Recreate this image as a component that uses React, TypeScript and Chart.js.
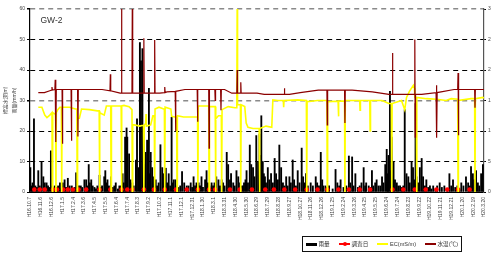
import React, { useEffect, useRef } from 'react';
import { Chart, registerables } from 'chart.js';

Chart.register(...registerables);

const FONT = '"Liberation Sans", Arial, "Noto Sans CJK JP", sans-serif';

// x tick labels, one every 30 days starting H16.10.7 (day 0)
const tickLabels = [
  'H16.10.7', 'H16.11.6', 'H16.12.6', 'H17.1.5', 'H17.2.4', 'H17.3.6', 'H17.4.5', 'H17.5.5',
  'H17.6.4', 'H17.7.4', 'H17.8.3', 'H17.9.2', 'H17.10.2', 'H17.11.1', 'H17.12.1', 'H17.12.31',
  'H18.1.30', 'H18.3.1', 'H18.3.31', 'H18.4.30', 'H18.5.30', 'H18.6.29', 'H18.7.29', 'H18.8.28',
  'H18.9.27', 'H18.10.27', 'H18.11.26', 'H18.12.26', 'H19.1.25', 'H19.2.24', 'H19.3.26', 'H19.4.25',
  'H19.5.25', 'H19.6.24', 'H19.7.24', 'H19.8.23', 'H19.9.22', 'H19.10.22', 'H19.11.21', 'H19.12.21',
  'H20.1.20', 'H20.2.19', 'H20.3.20',
];

// rainfall (mm/h): [day, value]
const rainfall: [number, number][] = [
  [1, 8], [4, 2], [7, 3], [11, 24], [15, 2], [19, 1.5], [23, 7], [27, 2], [32, 10], [37, 5], [41, 3], [46, 3],
  [50, 2], [53, 1.5], [58, 13.5], [62, 2], [65, 1], [69, 2], [75, 1.5], [78, 2], [83, 3], [87, 1], [91, 3], [96, 4],
  [100, 1.5], [105, 4.5], [110, 2], [116, 2], [120, 1], [124, 1.5], [128, 6.3], [132, 1], [136, 2], [141, 2],
  [145, 1.5], [151, 4], [156, 4], [160, 2], [163, 9], [166, 3], [170, 4], [174, 2], [179, 1.5], [183, 1], [187, 2],
  [193, 5.5], [197, 1.5], [200, 2], [206, 5], [209, 7], [212, 3], [215, 4], [219, 2], [225, 5], [230, 1.5], [234, 2],
  [238, 3], [244, 1], [248, 2], [252, 2], [257, 6], [260, 3], [264, 18], [268, 21], [270, 18], [275, 12.5], [279, 4],
  [284, 3], [288, 2], [294, 10.5], [297, 24], [301, 8], [305, 49], [308, 43], [312, 47], [316, 20], [318, 9],
  [321, 13], [325, 17], [327, 11], [330, 34], [332, 6], [335, 13], [339, 8], [344, 5], [349, 4], [353, 2], [357, 3],
  [362, 15.5], [367, 8], [371, 6], [375, 2],
  [377, 7.8], [381, 3], [385, 6], [389, 2], [393, 24.5], [396, 3], [399, 4], [404, 4], [408, 2], [412, 1.5], [417, 2],
  [422, 6.7], [428, 3], [435, 2], [440, 2], [446, 3], [450, 1.5], [454, 5], [458, 2], [462, 3], [468, 3], [472, 2],
  [476, 5], [480, 1.5], [486, 4], [490, 7], [494, 3], [498, 2], [504, 3], [508, 2], [512, 3], [517, 5], [523, 4],
  [527, 2], [532, 4], [536, 3], [540, 2], [546, 13], [550, 9], [555, 4], [558, 6], [564, 3], [568, 2], [573, 7],
  [578, 5], [583, 3], [587, 2], [591, 2], [594, 3], [598, 4], [601, 7], [605, 3], [610, 15.4], [614, 9], [619, 8],
  [623, 5], [628, 18.5], [633, 10], [637, 19], [640, 12], [642, 25], [646, 10], [649, 6], [652, 5], [655, 3],
  [660, 8], [664, 4], [669, 6], [674, 3], [679, 11], [683, 6], [688, 4], [692, 15.4], [697, 8], [702, 3], [706, 2],
  [711, 5], [715, 2], [720, 5], [724, 3], [729, 10.5], [733, 4], [738, 2], [743, 7], [748, 3], [754, 14.4],
  [758, 5], [762, 3], [766, 6], [771, 2], [779, 3], [785, 2], [793, 5], [797, 3], [802, 2], [807, 13], [811, 4],
  [814, 2], [820, 2], [825, 1.5], [830, 2], [840, 1], [848, 7.4], [853, 3], [858, 2], [862, 4], [870, 1.5], [878, 2],
  [885, 11.8], [889, 3], [894, 11.5], [898, 2], [903, 6], [910, 1.5], [915, 2], [920, 3], [926, 8], [930, 2],
  [933, 3], [940, 2], [945, 1.5], [949, 7], [953, 2], [958, 3], [962, 4], [967, 2], [972, 2], [977, 5], [981, 3],
  [986, 9], [990, 14], [993, 6], [995, 12], [999, 33], [1002, 7], [1004, 18], [1009, 10], [1013, 4], [1018, 3],
  [1022, 2], [1027, 2], [1032, 1.5], [1036, 2], [1040, 27], [1045, 6], [1050, 5], [1054, 3], [1059, 10], [1063, 8],
  [1066, 4], [1070, 29], [1073, 5], [1077, 3], [1082, 8], [1087, 11], [1091, 5], [1096, 2], [1100, 4], [1105, 1.5],
  [1110, 2], [1114, 1], [1119, 2], [1125, 1], [1130, 2], [1137, 3], [1143, 1.5], [1150, 2], [1158, 1], [1164, 6],
  [1169, 2], [1174, 4], [1180, 1.5], [1186, 2], [1192, 1], [1197, 3], [1203, 2], [1210, 5], [1216, 3], [1220, 2],
  [1224, 8.3], [1229, 6], [1233, 4], [1238, 7], [1243, 3], [1247, 2], [1252, 6], [1257, 9],
];

// survey days (plotted at a fixed low level)
const surveyDays = [
  12, 27, 41, 64, 75, 92, 105, 119, 135, 156, 193, 223, 254, 270, 284, 316, 344, 374, 405, 435, 466, 497, 514,
  555, 582, 616, 653, 677, 706, 736, 768, 798, 825, 856, 885, 915, 944, 1006, 1036, 1068, 1098, 1128, 1158, 1188, 1220,
];
const surveyLevel = 0.8;

// EC (mS/m), right axis: [day, value]
const ec: [number, number][] = [
  [23, 13.9], [33, 13.9], [41, 12.6], [47, 12.2], [55, 12.6], [61, 13.0], [62, 0], [63, 13.0], [69, 12.8], [71, 12.8],
  [72, 0], [73, 13.0], [77, 13.5], [83, 13.9], [87, 13.9], [88, 0], [89, 13.9], [96, 13.9], [110, 13.9], [126, 13.6],
  [130, 13.6], [131, 0], [132, 12.1], [137, 12.1], [143, 13.6], [165, 13.5], [187, 13.3], [192, 13.3], [193, 0],
  [194, 13.0], [206, 12.6], [212, 14.1], [224, 14.1], [225, 0], [226, 14.1], [248, 14.1], [253, 14.1], [254, 0],
  [255, 14.1], [261, 14.2], [275, 14.0], [283, 13.5], [284, 0], [285, 11.0], [289, 11.0], [305, 10.8], [311, 10.9],
  [315, 10.9], [316, 0], [317, 11.0], [321, 11.2], [322, 12.8], [323, 10.8], [335, 11.0], [341, 12.5], [345, 12.5],
  [346, 0], [347, 13.6], [358, 13.9], [371, 13.6], [373, 13.6], [374, 0], [375, 13.9], [391, 13.6], [393, 12.4],
  [402, 12.3], [407, 12.3], [408, 0], [409, 12.5], [426, 12.3], [454, 12.3], [465, 12.3], [466, 0], [467, 14.1],
  [490, 14.1], [496, 14.1], [497, 0], [498, 14.0], [506, 14.0], [514, 14.0], [515, 0], [516, 12.0], [523, 12.5],
  [531, 12.5], [532, 0], [533, 13.5], [550, 14.0], [569, 13.8], [574, 13.8], [575, 31], [576, 14.3], [584, 14.3],
  [585, 0], [586, 14.3], [596, 14.0], [600, 11.3], [605, 10.6], [619, 10.4], [636, 10.4], [637, 0], [638, 10.4],
  [655, 10.8], [671, 10.6], [674, 15.1], [688, 15.0], [703, 15.0], [704, 13.9], [705, 15.0], [743, 15.1], [767, 15.0],
  [768, 0], [769, 14.8], [798, 15.0], [824, 15.0], [825, 0], [826, 14.8], [855, 14.9], [856, 12.4], [857, 14.9],
  [873, 14.9], [874, 0], [875, 15.0], [915, 15.0], [916, 13.4], [917, 15.0], [943, 15.0], [944, 10.0], [945, 15.0],
  [977, 15.0], [996, 14.5], [1003, 14.5], [1004, 0], [1005, 14.5], [1031, 15.0], [1040, 13.5], [1045, 15.5],
  [1053, 16.5], [1064, 17.5], [1067, 17.0], [1068, 15.5], [1072, 15.4], [1073, 0], [1074, 15.5], [1100, 15.3],
  [1128, 15.2], [1155, 15.0], [1169, 15.3], [1187, 15.2], [1188, 0], [1189, 15.0], [1224, 15.3], [1234, 15.3],
  [1235, 0], [1236, 15.3], [1257, 15.5], [1260, 15.4],
];

// water temperature (°C), right axis: [day, value]
const waterTemp: [number, number][] = [
  [23, 16.3], [40, 16.3], [55, 16.6], [60, 16.7], [61, 17.2], [62, 16.7], [69, 16.8], [70, 18.4], [71, 16.8],
  [72, 8.2], [73, 16.8], [89, 16.8], [90, 7.9], [91, 16.8], [114, 16.8], [115, 8.4], [116, 16.8], [132, 16.8],
  [133, 9.1], [134, 16.8], [200, 16.8], [222, 16.6], [223, 19.3], [224, 16.6], [250, 16.2], [253, 16.2], [254, 32],
  [255, 16.2], [283, 16.2], [284, 32], [285, 16.2], [315, 16.2], [316, 25.2], [317, 16.2], [345, 16.2], [346, 24.9],
  [347, 16.2], [360, 16.2], [373, 16.3], [374, 17.2], [375, 16.3], [380, 16.4], [403, 16.5], [404, 10.0],
  [405, 16.5], [430, 16.8], [464, 16.8], [465, 11.5], [466, 16.8], [496, 16.8], [497, 7.2], [498, 16.8],
  [513, 16.8], [514, 15.0], [515, 16.8], [529, 16.8], [530, 13.4], [531, 16.8], [540, 16.8], [560, 16.2],
  [574, 16.2], [575, 20.0], [576, 16.2], [584, 16.2], [585, 18.0], [586, 16.2], [630, 16.2], [650, 16.0],
  [705, 16.0], [706, 17.0], [707, 16.0], [720, 16.0], [750, 16.3], [800, 16.7], [824, 16.7], [825, 11.0],
  [826, 16.7], [873, 16.7], [874, 11.3], [875, 16.7], [894, 16.7], [950, 16.4], [996, 16.0], [1005, 16.0],
  [1006, 22.8], [1007, 16.0], [1067, 16.0], [1068, 25.0], [1069, 9.0], [1070, 16.0], [1087, 16.0], [1127, 16.3],
  [1128, 17.5], [1129, 8.9], [1130, 16.3], [1177, 16.8], [1187, 16.8], [1188, 19.5], [1189, 9.3], [1190, 16.8],
  [1234, 16.8], [1235, 13.8], [1236, 16.8], [1260, 16.8],
];

const toXY = (arr: [number, number][]) => arr.map(([x, y]) => ({ x, y }));

export default function App() {
  const ref = useRef<HTMLCanvasElement>(null);

  useEffect(() => {
    if (!ref.current) return;
    const tickFont = { size: 5, family: FONT };
    const chart = new Chart(ref.current, {
      type: 'bar',
      data: {
        datasets: [
          {
            type: 'line',
            label: '水温(℃)',
            data: toXY(waterTemp),
            yAxisID: 'y1',
            borderColor: '#8B0000',
            borderWidth: 1.2,
            pointRadius: 0,
            tension: 0,
            order: 0,
          } as any,
          {
            type: 'line',
            label: 'EC(mS/m)',
            data: toXY(ec),
            yAxisID: 'y1',
            borderColor: '#FFFF00',
            borderWidth: 1.6,
            pointRadius: 0,
            tension: 0,
            order: 1,
          } as any,
          {
            type: 'line',
            label: '調査日',
            data: surveyDays.map((d) => ({ x: d, y: surveyLevel })),
            yAxisID: 'y',
            showLine: false,
            pointRadius: 2.3,
            pointBackgroundColor: '#FF0000',
            pointBorderWidth: 0,
            borderColor: '#FF0000',
            order: 2,
          } as any,
          {
            type: 'bar',
            label: '雨量',
            data: toXY(rainfall),
            yAxisID: 'y',
            backgroundColor: '#000000',
            barThickness: 1.2,
            order: 3,
          } as any,
        ],
      },
      options: {
        animation: false,
        responsive: false,
        maintainAspectRatio: false,
        layout: { padding: { top: 9, left: 0, right: 0, bottom: 0 } },
        plugins: { legend: { display: false }, tooltip: { enabled: false } },
        scales: {
          x: {
            type: 'linear',
            min: 0,
            max: 1260,
            offset: false,
            grid: { display: false, drawTicks: false },
            border: { display: true, color: '#000', width: 1 },
            ticks: {
              stepSize: 30,
              autoSkip: false,
              maxRotation: 90,
              minRotation: 90,
              padding: 5,
              font: tickFont,
              color: '#444',
              callback: (v: any) => tickLabels[Math.round(Number(v) / 30)] ?? '',
            },
            afterFit: (s: any) => { s.height = 73; },
          },
          y: {
            position: 'left',
            min: 0,
            max: 60,
            ticks: { stepSize: 10, font: tickFont, color: '#444', padding: 2 },
            grid: {
              color: (c: any) => {
                const v = c.tick?.value;
                if (v === 0) return 'rgba(0,0,0,0)';
                return v === 30 || v === 60 ? '#8a8a8a' : '#000';
              },
              lineWidth: (c: any) => (c.tick?.value === 30 || c.tick?.value === 60 ? 1.6 : 1),
              tickLength: 3,
              tickColor: '#000',
            },
            border: { display: true, color: '#000', width: 1.2, dash: [5, 4] },
            title: {
              display: true,
              text: ['標高水深(m)', '雨量(mm/h)'],
              font: { size: 5, family: FONT, lineHeight: 1.8 },
              color: '#444',
              padding: { top: 1, bottom: 0 },
            },
            afterFit: (s: any) => { s.width = 30; },
          },
          y1: {
            position: 'right',
            min: 0,
            max: 30,
            ticks: { stepSize: 5, font: tickFont, color: '#444', padding: 2 },
            grid: { drawOnChartArea: false, tickLength: 2, tickColor: '#000' },
            border: { display: true, color: '#555', width: 1.2 },
            afterFit: (s: any) => { s.width = 7; },
          },
        },
      } as any,
    });
    return () => chart.destroy();
  }, []);

  const legendText: React.CSSProperties = {
    fontFamily: FONT,
    fontSize: 5.6,
    color: '#333',
    whiteSpace: 'nowrap',
    lineHeight: '6px',
  };
  const item = (left: number): React.CSSProperties => ({
    position: 'absolute',
    left,
    top: 238,
    height: 12,
    display: 'flex',
    alignItems: 'center',
  });

  return (
    <div style={{ position: 'fixed', left: 0, top: 0, width: 495, height: 265, background: '#fff', overflow: 'hidden' }}>
      <canvas ref={ref} width={495} height={265} style={{ display: 'block', width: 495, height: 265 }} />
      <div
        style={{
          position: 'absolute',
          left: 40.5,
          top: 16,
          fontFamily: FONT,
          fontSize: 8.5,
          lineHeight: '8.5px',
          color: '#333',
        }}
      >
        GW-2
      </div>
      <div
        style={{
          position: 'absolute',
          left: 302,
          top: 236,
          width: 160,
          height: 16,
          border: '1.3px solid #111',
          boxSizing: 'border-box',
        }}
      />
      <div style={item(306)}>
        <div style={{ width: 11, height: 3, background: '#000', marginRight: 1.5 }} />
        <span style={legendText}>雨量</span>
      </div>
      <div style={item(339)}>
        <div style={{ position: 'relative', width: 11, height: 1.5, background: '#FF0000', marginRight: 1.5 }}>
          <div style={{ position: 'absolute', left: 3.5, top: -1.5, width: 4.5, height: 4.5, borderRadius: '50%', background: '#FF0000' }} />
        </div>
        <span style={legendText}>調査日</span>
      </div>
      <div style={item(377)}>
        <div style={{ width: 11, height: 1.5, background: '#FFFF00', marginRight: 2 }} />
        <span style={legendText}>EC(mS/m)</span>
      </div>
      <div style={item(425)}>
        <div style={{ width: 11, height: 1.5, background: '#8B0000', marginRight: 1.5 }} />
        <span style={legendText}>水温(℃)</span>
      </div>
    </div>
  );
}
